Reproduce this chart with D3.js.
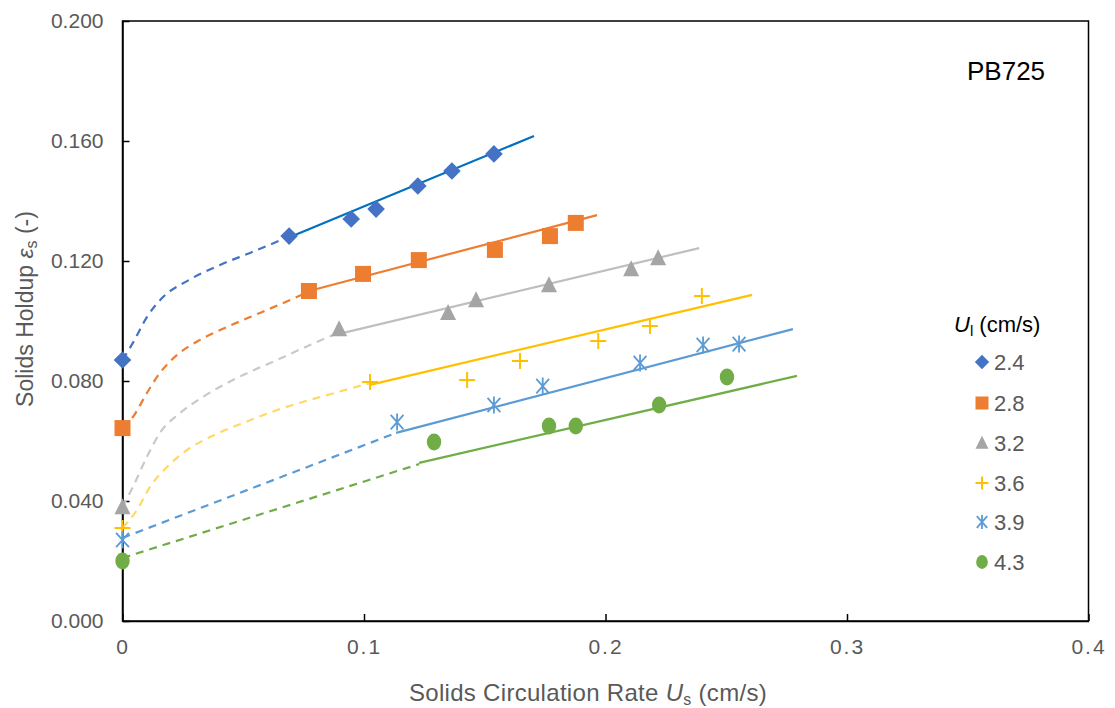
<!DOCTYPE html>
<html>
<head>
<meta charset="utf-8">
<script src="https://cdn.jsdelivr.net/npm/d3@7"></script>
<style>
  body { margin: 0; background: #fff; }
  svg { font-family: "Liberation Sans", Arial, sans-serif; }
</style>
</head>
<body>
<svg id="chart" width="1115" height="708"></svg>
<script>
// ---------- data ----------
const seriesNames = ["2.4", "2.8", "3.2", "3.6", "3.9", "4.3"];
const xTicks = [0, 0.1, 0.2, 0.3, 0.4];
const xTickLabels = ["0", "0.1", "0.2", "0.3", "0.4"];
const yTicks = [0, 0.04, 0.08, 0.12, 0.16, 0.2];
const yTickLabels = ["0.000", "0.040", "0.080", "0.120", "0.160", "0.200"];

// measured points [Us, eps_s]
const pts24 = [[0, 0.087], [0.069, 0.1283], [0.0947, 0.134], [0.105, 0.1373], [0.1223, 0.145], [0.1364, 0.150], [0.1538, 0.1557]];
const pts28 = [[0, 0.0643], [0.0772, 0.110], [0.0996, 0.1157], [0.1227, 0.1203], [0.1542, 0.1237], [0.177, 0.1283], [0.1877, 0.1327]];
const pts32 = [[0, 0.038], [0.0897, 0.0973], [0.1348, 0.1027], [0.1464, 0.107], [0.1766, 0.112], [0.2106, 0.1173], [0.2218, 0.121]];
const pts36 = [[0, 0.031], [0.1025, 0.0797], [0.1427, 0.0803], [0.1646, 0.0867], [0.197, 0.0933], [0.2184, 0.0983], [0.2399, 0.1083]];
const pts39 = [[0, 0.027], [0.1137, 0.0663], [0.1538, 0.072], [0.174, 0.0783], [0.2143, 0.086], [0.2404, 0.092], [0.2553, 0.0923]];
const pts43 = [[0, 0.020], [0.129, 0.0597], [0.1766, 0.065], [0.1877, 0.065], [0.2222, 0.072], [0.2503, 0.0813]];

// solid fitted lines
const fit24 = [[0.0704, 0.1283], [0.1704, 0.1617]];
const fit28 = [[0.0772, 0.110], [0.1965, 0.1353]];
const fit32 = [[0.0897, 0.0957], [0.2388, 0.1243]];
const fit36 = [[0.1025, 0.0787], [0.2607, 0.1087]];
const fit39 = [[0.1133, 0.0627], [0.2776, 0.0973]];
const fit43 = [[0.1228, 0.0527], [0.2793, 0.0817]];

// dashed extrapolations
const dash24 = [[0, 0.087], [0.0043, 0.0927], [0.0101, 0.1013], [0.0168, 0.108], [0.0267, 0.1133], [0.0404, 0.1187], [0.0528, 0.1227], [0.0686, 0.128]];
const dash28 = [[0, 0.0643], [0.0043, 0.068], [0.0101, 0.076], [0.0155, 0.0827], [0.0226, 0.0887], [0.0321, 0.0937], [0.0433, 0.098], [0.0569, 0.1027], [0.0694, 0.107], [0.0768, 0.1097]];
const dash32 = [[0, 0.038], [0.0043, 0.0447], [0.0101, 0.0547], [0.0155, 0.0627], [0.0238, 0.0693], [0.0333, 0.0747], [0.0474, 0.081], [0.064, 0.087], [0.0776, 0.092], [0.0892, 0.096]];
const dash36 = [[0, 0.031], [0.006, 0.037], [0.0114, 0.0447], [0.0184, 0.0513], [0.0267, 0.057], [0.0362, 0.0613], [0.0499, 0.066], [0.0665, 0.071], [0.0847, 0.0753], [0.1025, 0.0793]];
const dash39 = [[0, 0.0277], [0.1133, 0.0627]];
const dash43 = [[0, 0.021], [0.1228, 0.0523]];

const allPts = [pts24, pts28, pts32, pts36, pts39, pts43];
const allFits = [fit24, fit28, fit32, fit36, fit39, fit43];
const allDashes = [dash24, dash28, dash32, dash36, dash39, dash43];

// ---------- styles ----------
const markerColors = ["#4472C4", "#ED7D31", "#A5A5A5", "#FFC000", "#5B9BD5", "#70AD47"];
const fitColors = ["#0070C0", "#ED7D31", "#BFBFBF", "#FFC000", "#5B9BD5", "#70AD47"];
const dashColors = ["#4472C4", "#ED7D31", "#C9C9C9", "#FFD966", "#5B9BD5", "#70AD47"];
const markerTypes = ["diamond", "square", "triangle", "plus", "asterisk", "circle"];

const svg = d3.select("#chart");
const L = 122.5, R = 1088.5, T = 21, B = 621;
const x = d3.scaleLinear().domain([0, 0.4]).range([L, R]);
const y = d3.scaleLinear().domain([0, 0.2]).range([B, T]);

// frame
svg.append("rect").attr("x", L).attr("y", T).attr("width", R - L).attr("height", B - T)
  .attr("fill", "none").attr("stroke", "#000").attr("stroke-width", 1.5);

// axes
const xAxis = d3.axisBottom(x).tickValues(xTicks).tickFormat((d, i) => xTickLabels[i]).tickSizeInner(-7).tickSizeOuter(0).tickPadding(18);
const gx = svg.append("g").attr("transform", `translate(0,${B})`).call(xAxis);
gx.select(".domain").attr("stroke", "#000").attr("stroke-width", 1.5);
gx.selectAll(".tick line").attr("stroke", "#000").attr("stroke-width", 1.5);
gx.selectAll(".tick text").attr("fill", "#595959").style("font-size", "21px").style("letter-spacing", "2px");

const yAxis = d3.axisLeft(y).tickValues(yTicks).tickFormat((d, i) => yTickLabels[i]).tickSizeInner(-7).tickSizeOuter(0).tickPadding(19);
const gy = svg.append("g").attr("transform", `translate(${L},0)`).call(yAxis);
gy.select(".domain").attr("stroke", "#000").attr("stroke-width", 1.5);
gy.selectAll(".tick line").attr("stroke", "#000").attr("stroke-width", 1.5);
gy.selectAll(".tick text").attr("fill", "#595959").style("font-size", "21px");

// lines
const line = d3.line().x(d => x(d[0])).y(d => y(d[1]));
const curve = d3.line().x(d => x(d[0])).y(d => y(d[1])).curve(d3.curveMonotoneX);
allDashes.forEach((dd, i) => {
  svg.append("path").attr("d", curve(dd)).attr("fill", "none")
    .attr("stroke", dashColors[i]).attr("stroke-width", 2.2).attr("stroke-dasharray", "8,6");
});
allFits.forEach((ff, i) => {
  svg.append("path").attr("d", line(ff)).attr("fill", "none")
    .attr("stroke", fitColors[i]).attr("stroke-width", 2.2);
});

// markers
function drawMarker(g, type, color, cx, cy, s) {
  if (type === "diamond") {
    g.append("path").attr("d", `M${cx},${cy - s * 0.55}L${cx + s * 0.55},${cy}L${cx},${cy + s * 0.55}L${cx - s * 0.55},${cy}Z`).attr("fill", color);
  } else if (type === "square") {
    g.append("rect").attr("x", cx - s / 2).attr("y", cy - s / 2).attr("width", s).attr("height", s).attr("fill", color);
  } else if (type === "triangle") {
    g.append("path").attr("d", `M${cx},${cy - s * 0.55}L${cx + s * 0.5},${cy + s * 0.45}L${cx - s * 0.5},${cy + s * 0.45}Z`).attr("fill", color);
  } else if (type === "plus") {
    g.append("path").attr("d", `M${cx - s / 2},${cy}H${cx + s / 2}M${cx},${cy - s / 2}V${cy + s / 2}`).attr("stroke", color).attr("stroke-width", 2).attr("fill", "none");
  } else if (type === "asterisk") {
    const h = s * 0.53, dx = s * 0.4;
    g.append("path").attr("d", `M${cx},${cy - h}V${cy + h}M${cx - dx},${cy - h * 0.85}L${cx + dx},${cy + h * 0.85}M${cx + dx},${cy - h * 0.85}L${cx - dx},${cy + h * 0.85}`)
      .attr("stroke", color).attr("stroke-width", 1.8).attr("fill", "none");
  } else if (type === "circle") {
    g.append("ellipse").attr("cx", cx).attr("cy", cy).attr("rx", s * 0.45).attr("ry", s * 0.53).attr("fill", color);
  }
}
const mg = svg.append("g");
allPts.forEach((pp, i) => {
  pp.forEach(p => drawMarker(mg, markerTypes[i], markerColors[i], x(p[0]), y(p[1]), 16));
});

// PB725 label
svg.append("text").attr("x", 967).attr("y", 80).attr("fill", "#000").style("font-size", "26px").text("PB725");

// legend
const lg = svg.append("g");
const title = lg.append("text").attr("x", 954).attr("y", 332).attr("fill", "#000").style("font-size", "22px");
title.append("tspan").attr("font-style", "italic").text("U");
title.append("tspan").attr("dy", 4).style("font-size", "15px").text("l");
title.append("tspan").attr("dy", -4).text(" (cm/s)");
const legY = [362, 403, 443, 483, 522, 562];
seriesNames.forEach((n, i) => {
  drawMarker(lg, markerTypes[i], markerColors[i], 982, legY[i], 13);
  lg.append("text").attr("x", 994).attr("y", legY[i] + 8).attr("fill", "#595959").style("font-size", "22px").text(n);
});

// axis titles
const xt = svg.append("text").attr("x", 588).attr("y", 701).attr("text-anchor", "middle").attr("fill", "#595959").style("font-size", "24px").style("letter-spacing", "0.3px");
xt.append("tspan").text("Solids Circulation Rate ");
xt.append("tspan").attr("font-style", "italic").text("U");
xt.append("tspan").attr("dy", 4).style("font-size", "16px").text("s");
xt.append("tspan").attr("dy", -4).text(" (cm/s)");

const yt = svg.append("text").attr("transform", "translate(33,309) rotate(-90)").attr("text-anchor", "middle").attr("fill", "#595959").style("font-size", "23px");
yt.append("tspan").text("Solids Holdup ");
yt.append("tspan").attr("font-style", "italic").text("ε");
yt.append("tspan").attr("dy", 4).style("font-size", "16px").text("s");
yt.append("tspan").attr("dy", -4).text(" (-)");
</script>
</body>
</html>
